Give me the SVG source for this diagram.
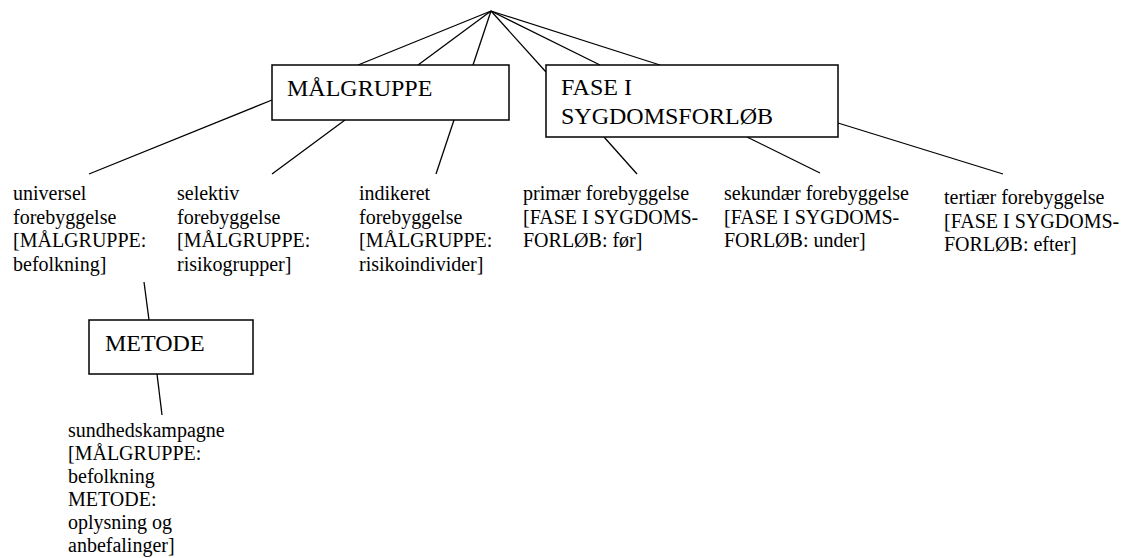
<svg xmlns="http://www.w3.org/2000/svg" width="1125" height="558" viewBox="0 0 1125 558">
  <style>
    .box { fill: #ffffff; stroke: #000000; stroke-width: 1.5; }
    .edge { stroke: #000000; stroke-width: 1.3; fill: none; }
    .serif { font-family: "Times New Roman", Times, "Liberation Serif", "Nimbus Roman", "Tinos", "DejaVu Serif", serif; fill: #000000; }
  </style>
  <rect width="1125" height="558" fill="#ffffff"/>

  <!-- connectors -->
  <g id="connectors">
    <line class="edge" x1="491" y1="11" x2="358" y2="65"/>
    <line class="edge" x1="491" y1="11" x2="418" y2="65"/>
    <line class="edge" x1="491" y1="11" x2="473" y2="65"/>
    <line class="edge" x1="491" y1="11" x2="546" y2="72"/>
    <line class="edge" x1="491" y1="11" x2="600" y2="65"/>
    <line class="edge" x1="491" y1="11" x2="660" y2="65"/>
    <line class="edge" x1="272" y1="100" x2="89" y2="174"/>
    <line class="edge" x1="345" y1="120" x2="272" y2="174"/>
    <line class="edge" x1="454" y1="120" x2="436" y2="174"/>
    <line class="edge" x1="604" y1="137" x2="637" y2="174"/>
    <line class="edge" x1="747" y1="137" x2="820" y2="173"/>
    <line class="edge" x1="838" y1="123" x2="1003" y2="174"/>
    <line class="edge" x1="144" y1="282" x2="149" y2="320"/>
    <line class="edge" x1="157" y1="374" x2="162" y2="415"/>
  </g>

  <!-- category boxes -->
  <g class="serif" font-size="24">
    <g id="maalgruppe">
      <rect class="box" x="272" y="65" width="237" height="55"/>
      <text x="287" y="96">MÅLGRUPPE</text>
    </g>
    <g id="fase">
      <rect class="box" x="546" y="65" width="292" height="72"/>
      <text x="561" y="95">FASE I</text>
      <text x="561" y="124">SYGDOMSFORLØB</text>
    </g>
    <g id="metode">
      <rect class="box" x="89" y="320" width="164" height="54"/>
      <text x="105" y="351">METODE</text>
    </g>
  </g>

  <!-- leaf concepts -->
  <g class="serif" font-size="20">
    <g id="universel">
      <text x="13" y="200">
        <tspan x="13">universel</tspan>
        <tspan x="13" dy="23.5">forebyggelse</tspan>
        <tspan x="13" dy="23.5">[MÅLGRUPPE:</tspan>
        <tspan x="13" dy="23.5">befolkning]</tspan>
      </text>
    </g>
    <g id="selektiv">
      <text x="177" y="200">
        <tspan x="177">selektiv</tspan>
        <tspan x="177" dy="23.5">forebyggelse</tspan>
        <tspan x="177" dy="23.5">[MÅLGRUPPE:</tspan>
        <tspan x="177" dy="23.5">risikogrupper]</tspan>
      </text>
    </g>
    <g id="indikeret">
      <text x="359" y="200">
        <tspan x="359">indikeret</tspan>
        <tspan x="359" dy="23.5">forebyggelse</tspan>
        <tspan x="359" dy="23.5">[MÅLGRUPPE:</tspan>
        <tspan x="359" dy="23.5">risikoindivider]</tspan>
      </text>
    </g>
    <g id="primaer">
      <text x="523" y="200">
        <tspan x="523">primær forebyggelse</tspan>
        <tspan x="523" dy="23.5">[FASE I SYGDOMS-</tspan>
        <tspan x="523" dy="23.5">FORLØB: før]</tspan>
      </text>
    </g>
    <g id="sekundaer">
      <text x="724" y="200">
        <tspan x="724">sekundær forebyggelse</tspan>
        <tspan x="724" dy="23.5">[FASE I SYGDOMS-</tspan>
        <tspan x="724" dy="23.5">FORLØB: under]</tspan>
      </text>
    </g>
    <g id="tertiaer">
      <text x="944" y="204">
        <tspan x="944">tertiær forebyggelse</tspan>
        <tspan x="944" dy="23.5">[FASE I SYGDOMS-</tspan>
        <tspan x="944" dy="23.5">FORLØB: efter]</tspan>
      </text>
    </g>
    <g id="sundhedskampagne">
      <text x="68" y="437">
        <tspan x="68">sundhedskampagne</tspan>
        <tspan x="68" dy="23">[MÅLGRUPPE:</tspan>
        <tspan x="68" dy="23">befolkning</tspan>
        <tspan x="68" dy="23">METODE:</tspan>
        <tspan x="68" dy="23">oplysning og</tspan>
        <tspan x="68" dy="23">anbefalinger]</tspan>
      </text>
    </g>
  </g>
</svg>
